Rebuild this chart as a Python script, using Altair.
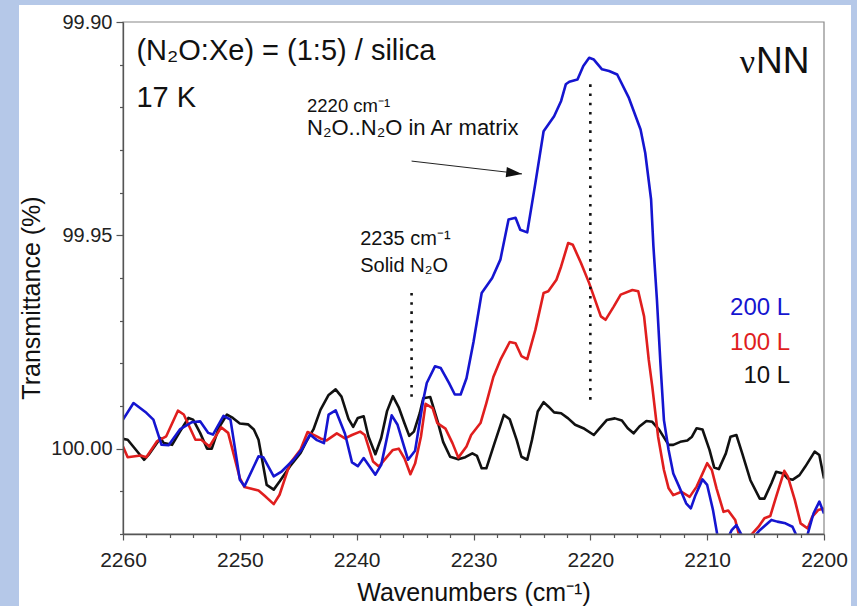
import altair as alt
import pandas as pd

# ---- spectra: wavenumber (cm-1) and transmittance (%) ----
wn_10 = [2260.0, 2259.6, 2258.2, 2257.8, 2256.8, 2256.5, 2255.8, 2255.1, 2254.4, 2254.0,
         2253.4, 2252.8, 2252.4, 2251.8, 2251.1, 2250.6, 2250.0, 2249.3, 2248.8, 2248.4,
         2247.7, 2247.1, 2246.6, 2245.7, 2244.8, 2244.3, 2243.7, 2243.1, 2242.4, 2241.8,
         2241.3, 2240.7, 2240.3, 2239.9, 2239.4, 2239.0, 2238.4, 2237.9, 2237.4, 2236.9,
         2236.4, 2235.9, 2235.5, 2235.1, 2234.6, 2234.3, 2233.7, 2233.1, 2232.6, 2232.0,
         2231.3, 2230.7, 2230.1, 2229.7, 2229.3, 2228.9, 2228.2, 2227.4, 2226.9, 2226.3,
         2225.9, 2225.4, 2225.0, 2224.5, 2224.0, 2223.6, 2223.1, 2222.5, 2221.9, 2221.3,
         2220.6, 2219.7, 2219.2, 2218.6, 2217.9, 2217.3, 2216.8, 2216.3, 2215.8, 2215.2,
         2214.7, 2214.1, 2213.3, 2212.9, 2212.3, 2211.7, 2211.3, 2210.9, 2210.4, 2209.8,
         2209.4, 2209.0, 2208.4, 2208.0, 2207.5, 2207.0, 2206.3, 2205.5, 2205.1, 2204.5,
         2204.1, 2203.5, 2203.1, 2202.7, 2202.1, 2201.6, 2200.8, 2200.4, 2200.0]
t_10 = [99.9977, 99.9979, 100.0026, 100.0014, 99.9975, 99.9987, 99.9991, 99.9959, 99.9928, 99.9932,
        99.9963, 100.0000, 100.0000, 99.9951, 99.9920, 99.9928, 99.9941, 99.9943, 99.9955, 99.9979,
        100.0085, 100.0096, 100.0077, 100.0041, 100.0010, 99.9983, 99.9955, 99.9909, 99.9874, 99.9861,
        99.9878, 99.9930, 99.9949, 99.9928, 99.9924, 99.9971, 100.0013, 99.9975, 99.9912, 99.9877,
        99.9903, 99.9941, 99.9970, 99.9960, 99.9917, 99.9882, 99.9879, 99.9933, 99.9984, 100.0019,
        100.0025, 100.0020, 100.0011, 100.0017, 100.0046, 100.0046, 99.9987, 99.9921, 99.9931, 99.9980,
        100.0019, 100.0026, 99.9980, 99.9913, 99.9891, 99.9901, 99.9915, 99.9917, 99.9929, 99.9944,
        99.9952, 99.9968, 99.9952, 99.9933, 99.9929, 99.9934, 99.9952, 99.9964, 99.9948, 99.9935,
        99.9937, 99.9956, 99.9991, 99.9991, 99.9984, 99.9981, 99.9972, 99.9952, 99.9955, 100.0003,
        100.0044, 100.0048, 100.0011, 99.9972, 99.9968, 100.0011, 100.0074, 100.0117, 100.0117, 100.0081,
        100.0054, 100.0058, 100.0070, 100.0073, 100.0062, 100.0042, 100.0007, 100.0015, 100.0070]

wn_100 = [2260.0, 2259.6, 2258.5, 2258.0, 2257.1, 2256.3, 2255.3, 2254.8, 2253.8, 2253.3,
          2252.6, 2251.6, 2251.0, 2250.0, 2249.6, 2248.4, 2247.9, 2247.1, 2246.6, 2245.7,
          2244.8, 2244.2, 2243.5, 2243.1, 2242.6, 2241.7, 2241.0, 2240.4, 2239.7, 2239.3,
          2238.6, 2238.1, 2237.5, 2236.9, 2236.4, 2235.9, 2235.4, 2235.0, 2234.5, 2234.1,
          2233.5, 2233.1, 2232.4, 2231.8, 2231.3, 2230.6, 2230.2, 2229.4, 2228.9, 2228.3,
          2227.7, 2226.9, 2226.4, 2225.9, 2225.4, 2224.7, 2224.0, 2223.6, 2222.9, 2222.5,
          2221.9, 2221.5, 2220.8, 2220.1, 2219.1, 2218.7, 2218.0, 2217.4, 2216.4, 2215.9,
          2215.4, 2215.0, 2214.7, 2214.2, 2213.7, 2213.3, 2212.9, 2212.2, 2211.5, 2210.9,
          2210.0, 2209.6, 2209.2, 2208.6, 2208.2, 2207.6, 2207.2, 2206.5, 2205.6, 2205.1,
          2204.6, 2204.1, 2203.4, 2203.1, 2202.5, 2202.0, 2201.4, 2201.0, 2200.5, 2200.0]
t_100 = [99.9995, 100.0020, 100.0016, 100.0020, 99.9983, 99.9971, 99.9911, 99.9920, 99.9979, 99.9979,
         99.9995, 99.9950, 99.9963, 100.0069, 100.0090, 100.0098, 100.0110, 100.0130, 100.0108, 100.0034,
         100.0002, 99.9961, 99.9970, 99.9976, 99.9981, 99.9964, 99.9976, 99.9968, 99.9960, 99.9968,
         100.0030, 100.0042, 100.0022, 100.0003, 100.0000, 100.0023, 100.0060, 100.0035, 99.9972, 99.9895,
         99.9905, 99.9940, 99.9953, 99.9987, 100.0021, 99.9995, 99.9968, 99.9940, 99.9893, 99.9832,
         99.9792, 99.9750, 99.9753, 99.9783, 99.9790, 99.9721, 99.9635, 99.9631, 99.9604, 99.9573,
         99.9518, 99.9522, 99.9565, 99.9612, 99.9690, 99.9698, 99.9667, 99.9639, 99.9628, 99.9631,
         99.9690, 99.9792, 99.9854, 99.9972, 100.0050, 100.0093, 100.0109, 100.0101, 100.0113, 100.0089,
         100.0034, 100.0050, 100.0093, 100.0148, 100.0145, 100.0167, 100.0210, 100.0210, 100.0183, 100.0163,
         100.0158, 100.0113, 100.0052, 100.0065, 100.0120, 100.0175, 100.0187, 100.0159, 100.0144, 100.0140]

wn_200 = [2260.0, 2259.1, 2258.0, 2257.4, 2256.7, 2256.1, 2255.1, 2254.1, 2253.4, 2252.7,
          2252.3, 2251.4, 2250.8, 2250.0, 2249.6, 2248.4, 2248.0, 2247.1, 2246.4, 2245.4,
          2244.7, 2244.0, 2243.4, 2242.8, 2242.4, 2241.8, 2241.0, 2240.4, 2239.9, 2239.4,
          2238.4, 2237.9, 2237.0, 2236.5, 2235.6, 2235.0, 2234.3, 2234.0, 2233.3, 2232.8,
          2232.1, 2231.6, 2231.1, 2230.6, 2230.0, 2229.3, 2228.4, 2227.7, 2227.0, 2226.4,
          2226.0, 2225.4, 2224.7, 2224.0, 2223.1, 2222.5, 2222.1, 2221.8, 2221.1, 2220.6,
          2220.1, 2219.7, 2219.0, 2218.4, 2217.7, 2216.7, 2215.7, 2215.3, 2214.8, 2214.6,
          2214.3, 2214.0, 2213.7, 2213.3, 2212.9, 2212.4, 2211.8, 2211.4, 2211.0, 2210.4,
          2210.0, 2209.5, 2209.1, 2208.6, 2207.9, 2207.5, 2207.0, 2206.4, 2205.5, 2204.5,
          2204.0, 2203.3, 2202.7, 2202.3, 2201.6, 2200.9, 2200.4, 2200.0]
t_200 = [99.9932, 99.9893, 99.9916, 99.9932, 99.9991, 99.9992, 99.9954, 99.9938, 99.9936, 99.9963,
         99.9967, 99.9923, 99.9932, 100.0073, 100.0088, 100.0018, 100.0020, 100.0065, 100.0053, 100.0026,
         100.0002, 99.9967, 99.9980, 99.9987, 99.9920, 99.9910, 99.9965, 100.0032, 100.0041, 100.0022,
         100.0061, 100.0038, 99.9922, 99.9944, 100.0026, 100.0005, 99.9886, 99.9846, 99.9807, 99.9811,
         99.9846, 99.9873, 99.9873, 99.9835, 99.9750, 99.9635, 99.9600, 99.9557, 99.9463, 99.9459,
         99.9487, 99.9493, 99.9377, 99.9256, 99.9221, 99.9185, 99.9146, 99.9140, 99.9135, 99.9103,
         99.9084, 99.9088, 99.9111, 99.9115, 99.9123, 99.9178, 99.9252, 99.9307, 99.9416, 99.9526,
         99.9651, 99.9800, 99.9933, 100.0003, 100.0058, 100.0089, 100.0128, 100.0140, 100.0109, 100.0072,
         100.0085, 100.0144, 100.0207, 100.0230, 100.0191, 100.0179, 100.0205, 100.0220, 100.0191, 100.0167,
         100.0171, 100.0175, 100.0183, 100.0207, 100.0220, 100.0152, 100.0124, 100.0152]

series_names = ["10 L", "100 L", "200 L"]
series_colors = ["#111111", "#e01e1e", "#1515d0"]

# ---- annotations ----
header_text = ["(N\u2082O:Xe) = (1:5) / silica", "17 K"]
header_wn = [2258.85, 2258.85]
header_T = [99.9088, 99.9200]

band_text = ["2220 cm\u207b\u00b9", "N\u2082O..N\u2082O in Ar matrix", "2235 cm\u207b\u00b9", "Solid N\u2082O"]
band_wn = [2244.25, 2244.25, 2239.7, 2239.7]
band_T = [99.9210, 99.9264, 99.9522, 99.9585]
band_size = [18.5, 22, 20, 20]

marker_wn = [2235.3, 2220.0]
marker_top = [99.9635, 99.9146]
marker_bottom = [99.9888, 99.9896]

arrow_wn = [2235.3, 2225.85]
arrow_T = [99.9326, 99.9356]

legend_text = ["200 L", "100 L", "10 L"]
legend_T = [99.9686, 99.9768, 99.9847]
legend_wn = 2202.9
legend_colors = ["#1515d0", "#e01e1e", "#111111"]

mode_wn = 2205.9
mode_T = 99.9120

W, H = 701, 512
FONT = "Liberation Sans"

x_major = "datum.value % 10 === 0"
y_major = "abs(datum.value * 20 - round(datum.value * 20)) < 0.01"

x_axis = alt.Axis(
    values=list(range(2200, 2261, 2)),
    labelExpr=f"{x_major} ? datum.value : ''",
    tickSize={"condition": {"test": x_major, "value": 6}, "value": 3.5},
    labelFont=FONT, labelFontSize=21, labelColor="#222", labelPadding=9,
    labelOverlap=False, labelFlush=False,
    title="Wavenumbers (cm\u207b\u00b9)", titleFont=FONT, titleFontSize=25,
    titleFontWeight="normal", titleColor="#111",
    titleX=350.5, titleY=66, titleAlign="center", titleBaseline="alphabetic",
    domainColor="#555", tickColor="#555", domainWidth=1.3, tickWidth=1.2,
    grid=False, zindex=2,
)
y_axis = alt.Axis(
    values=[round(99.90 + 0.01 * i, 2) for i in range(13)],
    labelExpr=f"{y_major} ? format(datum.value, '.2f') : ''",
    tickSize={"condition": {"test": y_major, "value": 7}, "value": 3.5},
    labelFont=FONT, labelFontSize=20, labelColor="#222", labelPadding=4,
    labelOverlap=False, labelFlush=False,
    title="Transmittance (%)", titleFont=FONT, titleFontSize=25,
    titleFontWeight="normal", titleColor="#111",
    titleX=-92, titleY=275.5, titleAngle=270, titleAlign="center", titleBaseline="middle",
    domainColor="#555", tickColor="#555", domainWidth=1.3, tickWidth=1.2,
    grid=False, zindex=2,
)
x_scale = alt.Scale(domain=[2200, 2260], reverse=True, nice=False, zero=False)
y_scale = alt.Scale(domain=[99.90, 100.02], reverse=True, nice=False, zero=False)


def xq(field):
    return alt.X(f"{field}:Q", scale=x_scale, axis=x_axis)


def yq(field):
    return alt.Y(f"{field}:Q", scale=y_scale, axis=y_axis)


one_row = pd.DataFrame({"k": [0]})

# white sheet behind the plot
sheet = alt.Chart(one_row).mark_rect(color="white").encode(
    x=alt.value(-104), x2=alt.value(728), y=alt.value(-17), y2=alt.value(H + 72)
)

layers = [sheet]
for name, wn, t, col in zip(series_names, [wn_10, wn_100, wn_200], [t_10, t_100, t_200], series_colors):
    df = pd.DataFrame({"wn": wn, "T": t, "series": name})
    layers.append(
        alt.Chart(df).mark_line(clip=True, strokeWidth=2.6, color=col, strokeJoin="round").encode(
            x=xq("wn"), y=yq("T")
        )
    )

markers = pd.DataFrame({"wn": marker_wn, "T": marker_top, "T2": marker_bottom})
layers.append(
    alt.Chart(markers).mark_rule(color="#111", strokeWidth=2.6, strokeDash=[2.6, 6.6]).encode(
        x=xq("wn"), y=yq("T"), y2="T2:Q"
    )
)

arrow = pd.DataFrame({"wn": [arrow_wn[0]], "T": [arrow_T[0]], "wn2": [arrow_wn[1]], "T2": [arrow_T[1]]})
layers.append(
    alt.Chart(arrow).mark_rule(color="#222", strokeWidth=1).encode(
        x=xq("wn"), y=yq("T"), x2="wn2:Q", y2="T2:Q"
    )
)
head = pd.DataFrame({"wn": [arrow_wn[1]], "T": [arrow_T[1]]})
layers.append(
    alt.Chart(head).mark_point(
        shape="M0,0 L-1,-0.32 L-1,0.32 Z", filled=True, color="#111", opacity=1,
        size=1000, angle=6.5,
    ).encode(x=xq("wn"), y=yq("T"))
)

header = pd.DataFrame({"wn": header_wn, "T": header_T, "label": header_text})
layers.append(
    alt.Chart(header).mark_text(align="left", baseline="alphabetic", font=FONT, fontSize=29, color="#111").encode(
        x=xq("wn"), y=yq("T"), text="label:N"
    )
)

bands = pd.DataFrame({"wn": band_wn, "T": band_T, "label": band_text, "size": band_size})
layers.append(
    alt.Chart(bands).mark_text(align="left", baseline="alphabetic", font=FONT, color="#111").encode(
        x=xq("wn"), y=yq("T"), text="label:N",
        size=alt.Size("size:Q", scale=None, legend=None),
    )
)

mode_nu = pd.DataFrame({"wn": [mode_wn], "T": [mode_T], "label": ["\u03bd"]})
layers.append(
    alt.Chart(mode_nu).mark_text(align="right", baseline="alphabetic", font="Liberation Serif",
                                 fontSize=34, color="#111").encode(
        x=xq("wn"), y=yq("T"), text="label:N"
    )
)
mode_nn = pd.DataFrame({"wn": [mode_wn], "T": [mode_T], "label": ["NN"]})
layers.append(
    alt.Chart(mode_nn).mark_text(align="left", baseline="alphabetic", font=FONT, fontSize=37,
                                 color="#111", dx=1).encode(
        x=xq("wn"), y=yq("T"), text="label:N"
    )
)

legend_df = pd.DataFrame({"wn": [legend_wn] * 3, "T": legend_T, "label": legend_text, "col": legend_colors})
layers.append(
    alt.Chart(legend_df).mark_text(align="right", baseline="alphabetic", font=FONT, fontSize=24).encode(
        x=xq("wn"), y=yq("T"), text="label:N",
        color=alt.Color("col:N", scale=None, legend=None),
    )
)

# plot frame
layers.append(
    alt.Chart(one_row).mark_rect(fill=None, stroke="#888", strokeWidth=1.2).encode(
        x=alt.value(0), x2=alt.value(W), y=alt.value(0), y2=alt.value(H)
    )
)

chart = alt.layer(*layers).properties(
    width=W, height=H,
    padding={"left": 123, "top": 22, "right": 33, "bottom": 72},
    autosize=alt.AutoSizeParams(type="none"),
    background="#b5c8e8",
).configure_view(stroke=None)

chart.save("out.html", embed_options={"renderer": "svg", "actions": False})
